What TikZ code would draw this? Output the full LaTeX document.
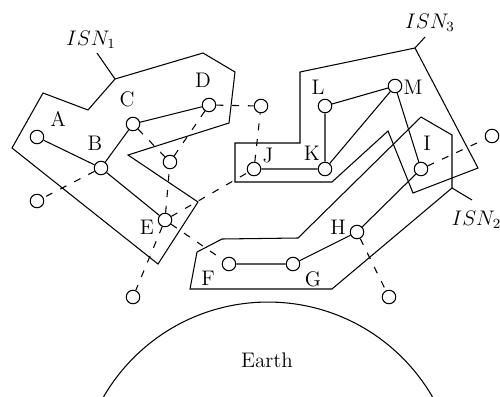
\documentclass[tikz,border=0pt]{standalone}
\begin{document}
\begin{tikzpicture}[x=0.02cm,y=-0.02cm,
  line width=0.6pt,
  every node/.style={font=\fontsize{12}{14}\selectfont, inner sep=0pt},
  stn/.style={circle,draw,minimum size=0.27cm,inner sep=0pt},
  lnk/.style={draw},
  dlnk/.style={draw,dash pattern=on 4pt off 5pt},
  region/.style={draw,line join=miter}]
\useasboundingbox (0,0) rectangle (500,396);
\clip (0,0) rectangle (500,396);

% regions
\draw[region] (115,79) -- (203,53) -- (235,72) -- (229,123) -- (128,155) -- (198,202) -- (158,264) -- (12,148) -- (43,93) -- (88,110) -- cycle;
\draw[region] (415,48) -- (300,72) -- (300,143) -- (235,143) -- (235,182) -- (332,182) -- (388,131) -- (413,193) -- (478,168) -- cycle;
\draw[region] (197,252) -- (222,239) -- (298,238) -- (421,117) -- (452,135) -- (452,188) -- (332,289) -- (190,289) -- cycle;

% region labels
\coordinate (p1) at (115,79);
\coordinate (p3) at (415,48);
\coordinate (p2) at (452,188);
\node (isn1) at (91,40) {$ISN_1$};
\node (isn3) at (430,23) {$ISN_3$};
\node[anchor=west] (isn2) at (451,220) {$ISN_2$};
\draw (p1) -- (97,53);
\draw (p3) -- (425,37);
\draw (p2) -- (472,200);

% stations
\node[stn] (A) at (37,137) {};
\node[stn] (B) at (101,168) {};
\node[stn] (C) at (133,124) {};
\node[stn] (D) at (209,105) {};
\node[stn] (E) at (165,220) {};
\node[stn] (F) at (229,264) {};
\node[stn] (G) at (293,264) {};
\node[stn] (H) at (357,232) {};
\node[stn] (I) at (421,169) {};
\node[stn] (J) at (254,169) {};
\node[stn] (K) at (325,169) {};
\node[stn] (L) at (325,106) {};
\node[stn] (M) at (395,86) {};
\node[stn] (s1) at (170,162) {};
\node[stn] (s2) at (261,106) {};
\node[stn] (s3) at (492,136) {};
\node[stn] (s4) at (389,297) {};
\node[stn] (s5) at (37,201) {};
\node[stn] (s6) at (133,297) {};

% station labels
\node at (58,119) {A};
\node at (95,143) {B};
\node at (127,99) {C};
\node at (203,80) {D};
\node at (147,227) {E};
\node at (208,278) {F};
\node at (313,279) {G};
\node at (338,227) {H};
\node at (427,143) {I};
\node at (268,156) {J};
\node at (312,153) {K};
\node at (318,87) {L};
\node at (413,87) {M};

% solid links
\path[lnk] (A) -- (B) (B) -- (C) (C) -- (D) (B) -- (E)
  (J) -- (K) (K) -- (L) (L) -- (M) (K) -- (M) (M) -- (I)
  (F) -- (G) (G) -- (H) (H) -- (I);
% dashed links
\path[dlnk] (B) -- (s5) (E) -- (s6) (C) -- (s1) (D) -- (s1) (E) -- (s1)
  (D) -- (s2) (J) -- (s2) (E) -- (J) (E) -- (F) (I) -- (s3) (H) -- (s4);

% Earth
\node[circle,draw,minimum size=7.6cm] (earth) at (268,492) {};
\node (earthlbl) at (267,360) {Earth};
\end{tikzpicture}
\end{document}
